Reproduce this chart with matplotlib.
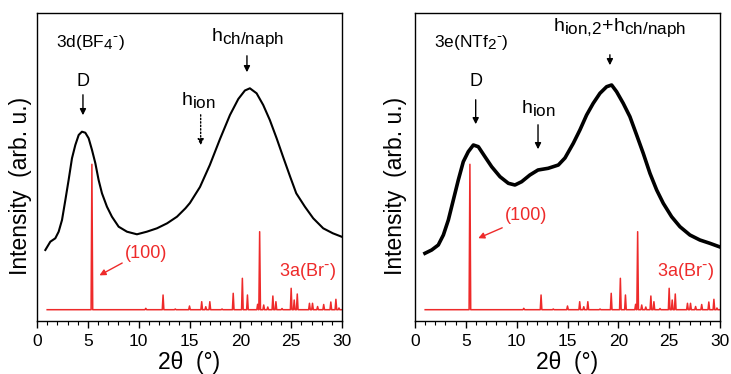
import matplotlib
matplotlib.use("Agg")
import matplotlib.pyplot as plt
import matplotlib._mathtext as mt
from matplotlib.ticker import MultipleLocator

plt.rcParams.update({
    "font.family": ["Liberation Sans", "DejaVu Sans"],
    "mathtext.fontset": "custom",
    "mathtext.rm": "Liberation Sans",
    "mathtext.it": "Liberation Sans:italic",
    "mathtext.bf": "Liberation Sans:bold",
})
# Origin-style subscripts are bigger than the mathtext default
mt.SHRINK_FACTOR = 0.88

# ---- data (y in arbitrary units, 0..308) ----
x_bf4 = [0.82, 1.31, 1.8, 2.13, 2.46, 2.79, 3.11, 3.44, 3.77, 4.1, 4.42, 4.75, 5.08, 5.41,
         5.74, 6.06, 6.39, 6.88, 7.37, 8.03, 8.85, 9.83, 10.8, 11.8, 12.8, 13.77, 14.6,
         15.04, 16.03, 17.0, 18.0, 18.98, 19.8, 20.45, 20.94, 21.6, 22.25, 22.9, 23.57,
         24.2, 24.9, 25.5, 26.35, 27.17, 28.15, 29.1, 29.96]
y_bf4 = [71, 79.3, 82.7, 89.3, 101, 121, 141, 162.7, 176, 186, 189.3, 188.3, 182.7, 171,
         157.7, 141, 127.7, 114.3, 104.3, 94.3, 89.3, 86.7, 89.3, 92.7, 97.7, 104.3, 112.7,
         118, 134, 156, 182, 206, 222, 230.5, 232.7, 227.7, 216, 201, 182.7,
         164.3, 144.3, 127.7, 114.3, 102.7, 92.7, 87.7, 84.3]

x_ntf2 = [0.98, 1.64, 2.29, 2.79, 3.28, 3.77, 4.26, 4.75, 5.24, 5.74, 6.23, 6.88, 7.54,
          8.36, 9.18, 9.83, 10.49, 11.3, 12.1, 13.1, 14.1, 14.75, 15.57, 16.22, 16.88,
          17.53, 18.19, 18.85, 19.34, 19.83, 20.48, 21.14, 21.8, 22.45, 23.11, 23.77,
          24.42, 25.24, 26.06, 27.04, 28.02, 29.0, 29.92]
y_ntf2 = [67.7, 71, 76, 86, 101, 121, 141, 159.3, 169.3, 176, 174.3, 164.3, 154.3,
          144.3, 137.7, 136, 139.3, 146, 151, 152.7, 156, 163, 177.7, 191, 206,
          217.7, 227.7, 234.3, 236, 229.3, 217.7, 204.3, 186, 167.7, 147.7, 131,
          117.7, 104.3, 94.3, 86, 81, 77.7, 74.3]

# 3a(Br-) reference pattern: peak positions / heights, baseline
br_base = 11.3
br_pos = [5.4, 10.7, 12.4, 13.6, 15.0, 16.2, 16.6, 17.0, 18.2, 19.3, 20.2, 20.7, 21.7,
          21.9, 22.3, 22.7, 23.2, 23.5, 24.1, 25.0, 25.3, 25.6, 26.8, 27.1, 27.6, 28.2,
          28.9, 29.4, 29.7]
br_hgt = [156.7, 12.7, 26, 12, 15, 19.3, 14.3, 19.3, 12, 27.7, 42.7, 26, 16.7,
          89.3, 16, 14, 25, 19.3, 12.5, 32.7, 21, 27, 17.7, 17.7, 14.5, 16.5,
          19, 21.7, 13]


def stick_pattern(pos, hgt, base, w=0.08):
    xs, ys = [1.0], [base]
    for p, h in zip(pos, hgt):
        xs += [p - w, p, p + w]
        ys += [base, h, base]
    xs.append(30.0)
    ys.append(base)
    return xs, ys


br_x, br_y = stick_pattern(br_pos, br_hgt, br_base)

RED = "#ee2a2a"
fig = plt.figure(figsize=(7.31, 3.74), dpi=100)
ax1 = fig.add_axes([37 / 731, 53 / 374, 305 / 731, 308 / 374])
ax2 = fig.add_axes([415 / 731, 53 / 374, 305 / 731, 308 / 374])

panels = [
    (ax1, x_bf4, y_bf4, 1.5, -0.016),
    (ax2, x_ntf2, y_ntf2, 2.6, -0.027),
]
for ax, xs, ys, lw, ylx in panels:
    ax.plot(xs, ys, color="k", lw=lw, solid_joinstyle="round")
    ax.plot(br_x, br_y, color=RED, lw=1.1)
    ax.set_xlim(0, 30)
    ax.set_ylim(0, 308)
    ax.set_yticks([])
    ax.xaxis.set_major_locator(MultipleLocator(5))
    ax.xaxis.set_minor_locator(MultipleLocator(1))
    ax.tick_params(axis="x", which="major", direction="out", length=5, width=1, labelsize=12.5, pad=4)
    ax.tick_params(axis="x", which="minor", direction="out", length=3, width=0.8)
    ax.set_xlabel("2θ  (°)", fontsize=16.5, labelpad=2)
    ax.set_ylabel("Intensity  (arb. u.)", fontsize=16.5)
    ax.yaxis.set_label_coords(ylx, 0.44)
    ax.text(26.6, 321 - 272, r"3a(Br$^{\text{-}}$)", color=RED, fontsize=13, ha="center", va="center")
    for s in ax.spines.values():
        s.set_linewidth(1.0)

arrow = dict(arrowstyle="-|>", color="k", lw=1.0, mutation_scale=9)

# left panel annotations
ax1.text(1.9, 321 - 43, r"3d(BF$_4$$^{\text{-}}$)", fontsize=12.5, ha="left", va="center")
ax1.text(4.5, 321 - 81, "D", fontsize=13, ha="center", va="center")
ax1.annotate("", xy=(4.52, 321 - 118), xytext=(4.52, 321 - 92), arrowprops=arrow)
ax1.text(20.75, 321 - 38, r"h$_{\rm ch/naph}$", fontsize=14, ha="center", va="center")
ax1.annotate("", xy=(20.65, 321 - 75), xytext=(20.65, 321 - 53), arrowprops=arrow)
ax1.text(15.9, 321 - 100, r"h$_{\rm ion}$", fontsize=14, ha="center", va="center")
ax1.annotate("", xy=(16.1, 321 - 148), xytext=(16.1, 321 - 112),
             arrowprops=dict(arrowstyle="-|>", color="k", lw=1.0, ls=(0, (1, 1.5)), mutation_scale=9))
ax1.text(10.75, 321 - 253, "(100)", color=RED, fontsize=13, ha="center", va="center")
ax1.annotate("", xy=(5.9, 321 - 276.7), xytext=(8.62, 321 - 261.7),
             arrowprops=dict(arrowstyle="-|>", color=RED, lw=1.0, mutation_scale=9))

# right panel annotations
ax2.text(1.87, 321 - 43, r"3e(NTf$_2$$^{\text{-}}$)", fontsize=12.5, ha="left", va="center")
ax2.text(20.15, 321 - 28, r"h$_{\rm ion{,}2}$+h$_{\rm ch/naph}$", fontsize=14, ha="center", va="center")
ax2.annotate("", xy=(19.17, 321 - 68), xytext=(19.17, 321 - 52), arrowprops=arrow)
ax2.text(5.97, 321 - 82, "D", fontsize=13, ha="center", va="center")
ax2.annotate("", xy=(5.97, 321 - 127), xytext=(5.97, 321 - 97), arrowprops=arrow)
ax2.text(12.1, 321 - 108, r"h$_{\rm ion}$", fontsize=14, ha="center", va="center")
ax2.annotate("", xy=(12.1, 321 - 152), xytext=(12.1, 321 - 122), arrowprops=arrow)
ax2.text(10.96, 321 - 215, "(100)", color=RED, fontsize=13, ha="center", va="center")
ax2.annotate("", xy=(5.97, 321 - 239.3), xytext=(8.83, 321 - 226.7),
             arrowprops=dict(arrowstyle="-|>", color=RED, lw=1.0, mutation_scale=9))

fig.savefig("out.png", dpi=100)
